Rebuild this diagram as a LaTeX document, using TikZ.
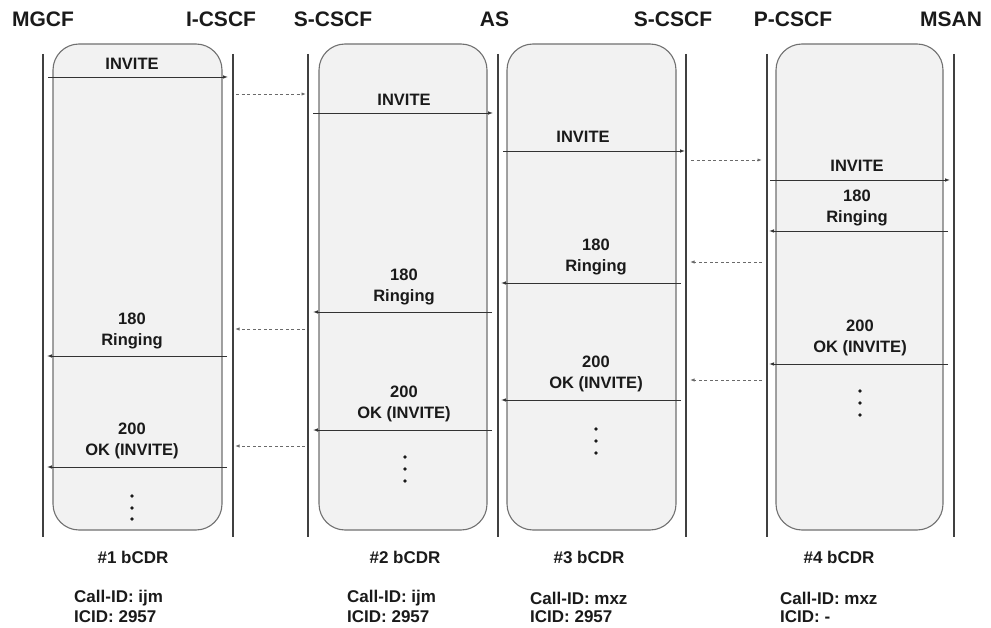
\documentclass[tikz,border=0pt]{standalone}
\usepackage{fontspec}
\setmainfont{Liberation Sans}
\usetikzlibrary{arrows.meta}
\definecolor{txt}{HTML}{1A1A1A}
\definecolor{life}{HTML}{404040}
\definecolor{boxline}{HTML}{707070}
\definecolor{boxfill}{HTML}{F2F2F2}
\definecolor{msg}{HTML}{333333}
\definecolor{dash}{HTML}{6A6A6A}
\tikzset{
  hdr/.style={font=\bfseries\fontsize{21}{24}\selectfont, text=txt, inner sep=0pt},
  lbl/.style={font=\bfseries\fontsize{16.5}{20.5}\selectfont, text=txt, align=center, inner sep=0pt},
  bot/.style={font=\bfseries\fontsize{17}{20}\selectfont, text=txt, inner sep=0pt},
  lifeline/.style={draw=life, line width=2pt},
  cdrbox/.style={draw=boxline, fill=boxfill, line width=1.1pt, rounded corners=26pt, inner sep=0pt},
  msgarrow/.style={draw=msg, line width=0.9pt, -{Latex[length=5pt,width=3.6pt]}},
  dasharrow/.style={draw=dash, line width=0.8pt, dash pattern=on 3pt off 2.5pt, -{Latex[length=4.5pt,width=3.2pt]}},
  dot/.style={circle, fill=txt, inner sep=0pt, minimum size=3.6pt}
}
\begin{document}
\begin{tikzpicture}[x=1pt,y=-1pt]
\useasboundingbox (0,0) rectangle (991,628);
% boxes
\node[cdrbox, minimum width=169pt, minimum height=486pt] (b1) at (137.5,287) {};
\node[cdrbox, minimum width=168pt, minimum height=486pt] (b2) at (403,287) {};
\node[cdrbox, minimum width=169pt, minimum height=486pt] (b3) at (591.5,287) {};
\node[cdrbox, minimum width=167pt, minimum height=486pt] (b4) at (859.5,287) {};
% lifelines
\foreach \n/\x in {l1/42.5,l2/233,l3/308,l4/498,l5/686,l6/767,l7/954}{
  \coordinate (\n t) at (\x,54);
  \coordinate (\n b) at (\x,537);
  \draw[lifeline] (\n t) -- (\n b);
}
% headers
\node[hdr] (h1) at (43,19) {MGCF};
\node[hdr] (h2) at (221,19) {I-CSCF};
\node[hdr] (h3) at (333,19) {S-CSCF};
\node[hdr] (h4) at (494.5,19) {AS};
\node[hdr] (h5) at (673,19) {S-CSCF};
\node[hdr] (h6) at (793,19) {P-CSCF};
\node[hdr] (h7) at (951,19) {MSAN};
% ---- box 1
\coordinate (a1s) at (48,77); \coordinate (a1e) at (228,77);
\draw[msgarrow] (a1s) -- (a1e);
\node[lbl] (t1a) at (132,64) {INVITE};
\coordinate (a1bs) at (227,356); \coordinate (a1be) at (47,356);
\draw[msgarrow] (a1bs) -- (a1be);
\node[lbl] (t1b) at (132,331) {180\\Ringing};
\coordinate (a1cs) at (227,467); \coordinate (a1ce) at (47,467);
\draw[msgarrow] (a1cs) -- (a1ce);
\node[lbl] (t1c) at (132,441) {200\\OK (INVITE)};
\node[dot] (d1a) at (132,496) {}; \node[dot] (d1b) at (132,508) {}; \node[dot] (d1c) at (132,519) {};
% dashed 1-2
\coordinate (x1s) at (236,94); \coordinate (x1e) at (306,94);
\draw[dasharrow] (x1s) -- (x1e);
\coordinate (x2s) at (305,329); \coordinate (x2e) at (235,329);
\draw[dasharrow] (x2s) -- (x2e);
\coordinate (x3s) at (305,446); \coordinate (x3e) at (235,446);
\draw[dasharrow] (x3s) -- (x3e);
% ---- box 2
\coordinate (a2s) at (313,113); \coordinate (a2e) at (493,113);
\draw[msgarrow] (a2s) -- (a2e);
\node[lbl] (t2a) at (404,100) {INVITE};
\coordinate (a2bs) at (492,312); \coordinate (a2be) at (313,312);
\draw[msgarrow] (a2bs) -- (a2be);
\node[lbl] (t2b) at (404,287) {180\\Ringing};
\coordinate (a2cs) at (492,430); \coordinate (a2ce) at (313,430);
\draw[msgarrow] (a2cs) -- (a2ce);
\node[lbl] (t2c) at (404,404) {200\\OK (INVITE)};
\node[dot] (d2a) at (405,457) {}; \node[dot] (d2b) at (405,469) {}; \node[dot] (d2c) at (405,481) {};
% ---- box 3
\coordinate (a3s) at (503,151); \coordinate (a3e) at (685,151);
\draw[msgarrow] (a3s) -- (a3e);
\node[lbl] (t3a) at (583,137) {INVITE};
\coordinate (a3bs) at (681,283); \coordinate (a3be) at (501,283);
\draw[msgarrow] (a3bs) -- (a3be);
\node[lbl] (t3b) at (596,257) {180\\Ringing};
\coordinate (a3cs) at (681,400); \coordinate (a3ce) at (501,400);
\draw[msgarrow] (a3cs) -- (a3ce);
\node[lbl] (t3c) at (596,374) {200\\OK (INVITE)};
\node[dot] (d3a) at (596,429) {}; \node[dot] (d3b) at (596,441) {}; \node[dot] (d3c) at (596,453) {};
% dashed 3-4
\coordinate (y1s) at (691,160); \coordinate (y1e) at (762,160);
\draw[dasharrow] (y1s) -- (y1e);
\coordinate (y2s) at (762,262); \coordinate (y2e) at (690,262);
\draw[dasharrow] (y2s) -- (y2e);
\coordinate (y3s) at (762,380); \coordinate (y3e) at (690,380);
\draw[dasharrow] (y3s) -- (y3e);
% ---- box 4
\coordinate (a4s) at (770,180); \coordinate (a4e) at (950,180);
\draw[msgarrow] (a4s) -- (a4e);
\node[lbl] (t4a) at (857,166) {INVITE};
\coordinate (a4bs) at (948,231); \coordinate (a4be) at (769,231);
\draw[msgarrow] (a4bs) -- (a4be);
\node[lbl] (t4b) at (857,208) {180\\Ringing};
\coordinate (a4cs) at (948,364); \coordinate (a4ce) at (769,364);
\draw[msgarrow] (a4cs) -- (a4ce);
\node[lbl] (t4c) at (860,338) {200\\OK (INVITE)};
\node[dot] (d4a) at (860,391) {}; \node[dot] (d4b) at (860,403) {}; \node[dot] (d4c) at (860,415) {};
% bottom labels
\node[bot] (c1) at (133,557) {\#1 bCDR};
\node[bot] (c2) at (405,557) {\#2 bCDR};
\node[bot] (c3) at (589,557) {\#3 bCDR};
\node[bot] (c4) at (839,557) {\#4 bCDR};
\node[bot, anchor=west] (i1a) at (74,598) {Call-ID: ijm};
\node[bot, anchor=west] (i1b) at (74,617) {ICID: 2957};
\node[bot, anchor=west] (i2a) at (347,598) {Call-ID: ijm};
\node[bot, anchor=west] (i2b) at (347,617) {ICID: 2957};
\node[bot, anchor=west] (i3a) at (530,598) {Call-ID: mxz};
\node[bot, anchor=west] (i3b) at (530,617) {ICID: 2957};
\node[bot, anchor=west] (i4a) at (780,598) {Call-ID: mxz};
\node[bot, anchor=west] (i4b) at (780,617) {ICID: -};
\end{tikzpicture}
\end{document}
